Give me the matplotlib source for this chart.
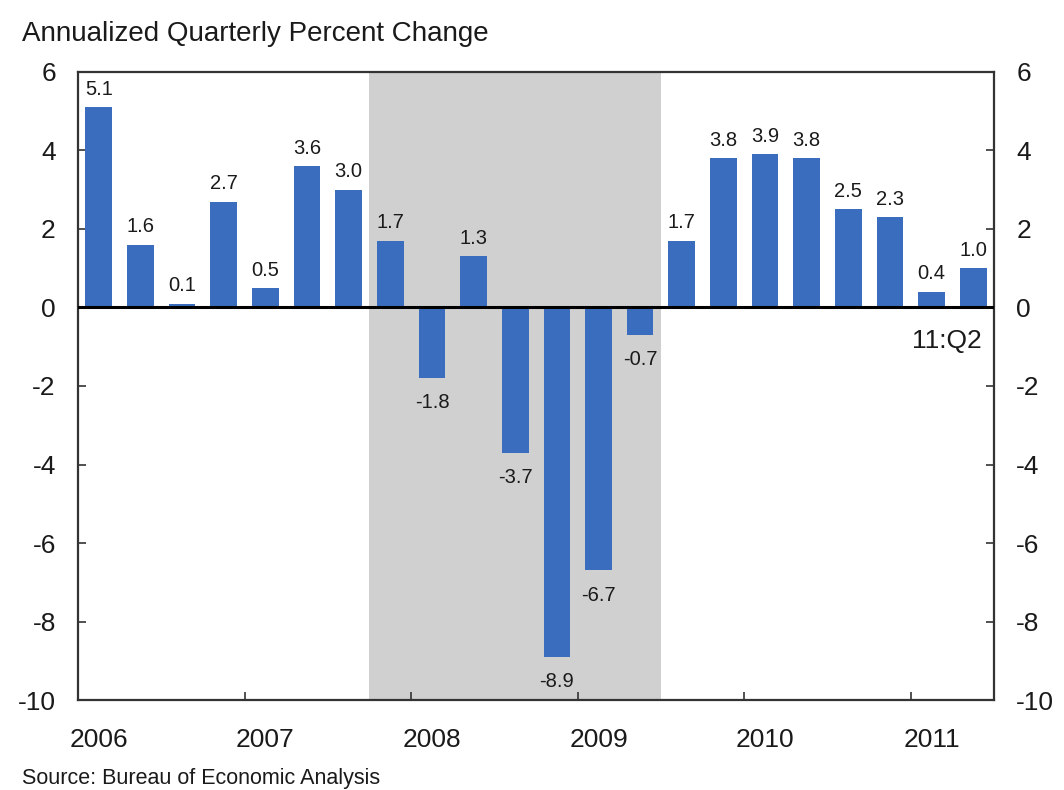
import matplotlib
matplotlib.use("Agg")
import matplotlib.pyplot as plt
from matplotlib.ticker import FixedLocator

plt.rcParams["font.family"] = ["Liberation Sans", "DejaVu Sans"]
plt.rcParams["axes.unicode_minus"] = False

# quarterly real GDP growth, 2006:Q1 .. 2011:Q2
values = [5.1, 1.6, 0.1, 2.7, 0.5, 3.6, 3.0, 1.7, -1.8, 1.3, -3.7, -8.9,
          -6.7, -0.7, 1.7, 3.8, 3.9, 3.8, 2.5, 2.3, 0.4, 1.0]
years = ["2006", "2007", "2008", "2009", "2010", "2011"]
yticks = [6, 4, 2, 0, -2, -4, -6, -8, -10]
recession = (7, 14)  # 2007:Q4 through 2009:Q2, in quarter index

bar_color = "#3A6DBE"
shade = "#D0D0D0"
txt = "#1A1A1A"

fig = plt.figure(figsize=(10.64, 7.90), dpi=100)
ax = fig.add_axes([0.0733, 0.1139, 0.861, 0.795])

xs = [i + 0.5 for i in range(len(values))]
ax.axvspan(recession[0], recession[1], color=shade, lw=0, zorder=0)
ax.bar(xs, values, width=0.64, color=bar_color, zorder=2)
ax.axhline(0, color="black", lw=2.2, zorder=3)

for x, v in zip(xs, values):
    if v >= 0:
        ax.annotate(f"{v:.1f}", (x, v), xytext=(0, 6), textcoords="offset points",
                    ha="center", va="bottom", fontsize=14.5, color=txt)
    else:
        ax.annotate(f"{v:.1f}", (x, v), xytext=(0, -11), textcoords="offset points",
                    ha="center", va="top", fontsize=14.5, color=txt)

ax.text(21.7, -0.55, "11:Q2", ha="right", va="top", fontsize=19, color=txt)

ax.set_xlim(0, len(values))
ax.set_ylim(-10, 6)

# year boundaries get tick marks, year labels sit under each Q1 bar
ax.xaxis.set_major_locator(FixedLocator([4 * i for i in range(len(years))]))
ax.xaxis.set_minor_locator(FixedLocator([4 * i + 0.5 for i in range(len(years))]))
ax.set_xticklabels([""] * len(years))
ax.set_xticklabels(years, minor=True)
ax.tick_params(axis="x", which="major", direction="in", length=6, width=1.2,
               color="#333333")
ax.tick_params(axis="x", which="minor", length=0, pad=20, labelsize=19,
               labelcolor=txt)

ax.set_yticks(yticks)
ax.set_yticklabels([str(t) for t in yticks])
ax.tick_params(axis="y", which="both", direction="in", length=6, width=1.2,
               color="#333333", labelsize=19, labelcolor=txt,
               left=True, right=True, labelleft=True, labelright=True)
ax.yaxis.set_tick_params(pad=16)

for s in ax.spines.values():
    s.set_color("#333333")
    s.set_linewidth(1.6)

fig.text(0.021, 0.957, "Annualized Quarterly Percent Change", fontsize=20,
         ha="left", va="center", color=txt)
fig.text(0.021, 0.015, "Source: Bureau of Economic Analysis", fontsize=15.5,
         ha="left", va="center", color=txt)

fig.savefig("out.png", dpi=100)
